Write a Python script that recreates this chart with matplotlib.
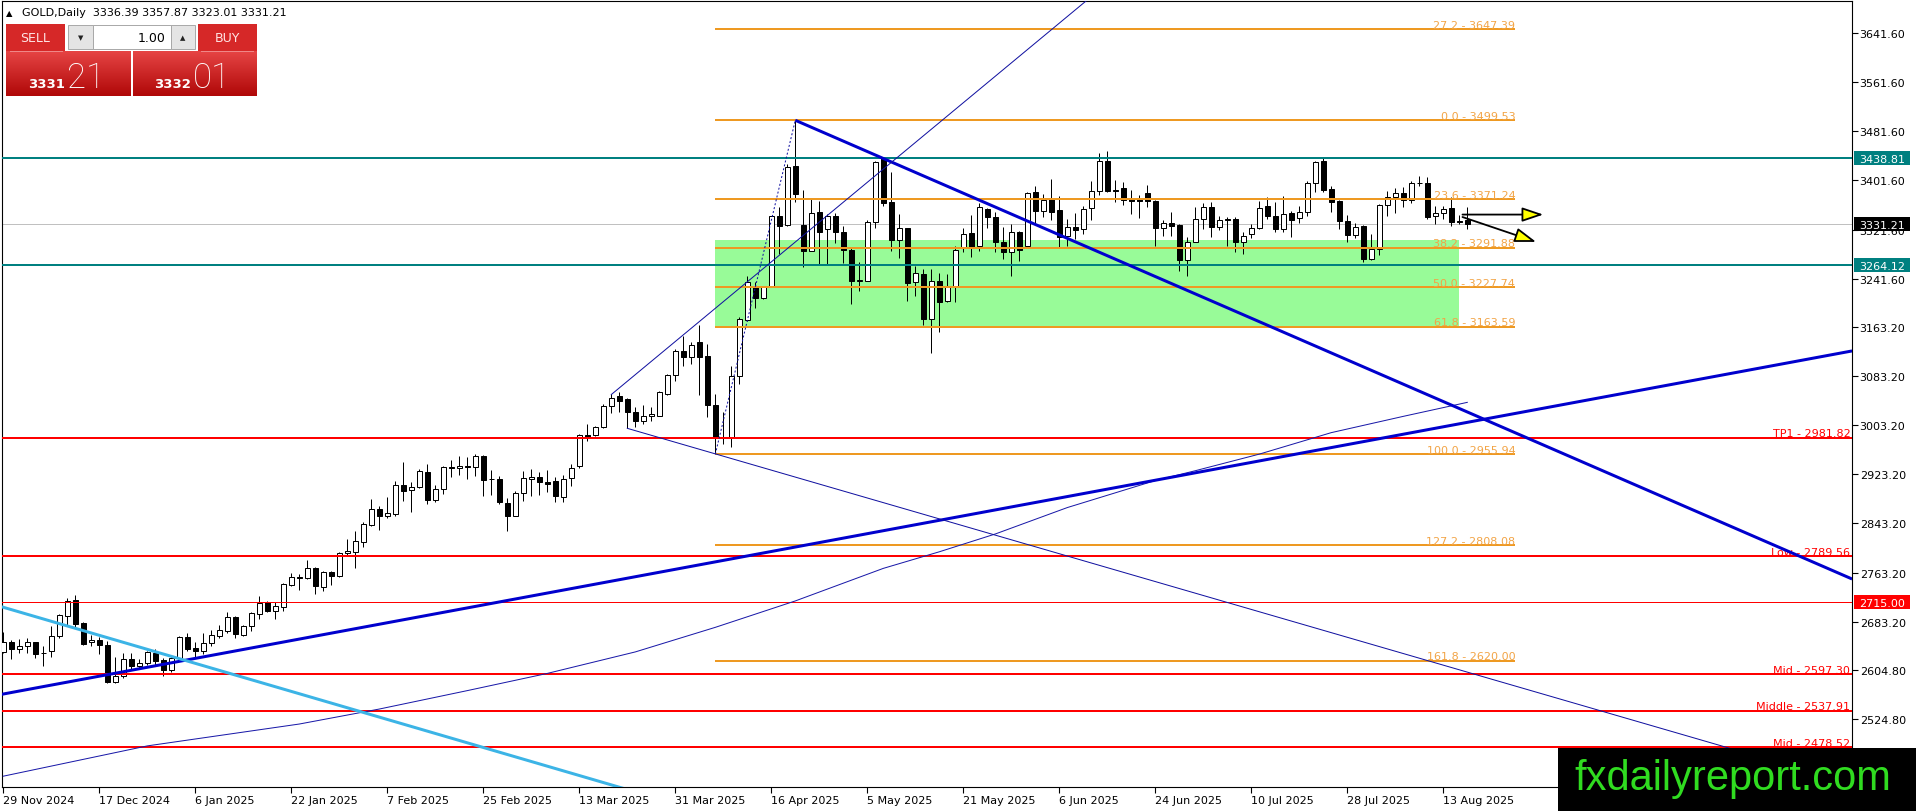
import numpy as np
import matplotlib.pyplot as plt
from matplotlib.patches import Rectangle, FancyArrowPatch
from matplotlib.colors import LinearSegmentedColormap

plt.rcParams['font.family'] = 'DejaVu Sans'
plt.rcParams['font.size'] = 8

# ---------------- data ----------------
# GOLD daily bars, index 0 = 29 Nov 2024, index 183 = 18 Aug 2025
opens = [2634.4, 2649.6, 2638.8, 2643.1, 2649.6, 2632.0, 2636.0, 2659.4, 2693.0, 2718.0,
         2681.1, 2649.6, 2653.4, 2645.3, 2584.5, 2595.4, 2622.5, 2611.6, 2615.4, 2631.7,
         2620.9, 2605.1, 2623.6, 2657.8, 2639.9, 2636.1, 2648.0, 2660.5, 2668.6, 2690.3,
         2661.6, 2676.8, 2695.8, 2714.8, 2701.2, 2706.6, 2743.0, 2756.0, 2753.8, 2770.1,
         2739.2, 2764.6, 2758.1, 2794.5, 2797.2, 2813.4, 2840.6, 2866.6, 2855.8, 2858.5,
         2906.2, 2897.6, 2903.0, 2926.3, 2881.8, 2899.2, 2934.5, 2932.8, 2937.2, 2934.5,
         2952.4, 2915.0, 2915.5, 2876.4, 2855.8, 2892.1, 2916.0, 2918.2, 2910.0, 2911.7,
         2885.6, 2916.6, 2937.2, 2987.7, 2987.7, 2999.6, 3033.8, 3050.1, 3045.7, 3025.1,
         3010.5, 3018.6, 3018.6, 3053.9, 3084.8, 3123.4, 3113.6, 3138.0, 3115.2, 3036.0,
         2982.0, 2983.4, 3082.7, 3175.0, 3227.6, 3209.7, 3230.3, 3343.2, 3329.1, 3424.6,
         3329.1, 3287.3, 3349.7, 3322.6, 3344.3, 3317.1, 3289.0, 3238.0, 3238.4, 3334.4,
         3437.5, 3365.9, 3304.6, 3323.6, 3235.7, 3248.7, 3176.0, 3238.4, 3204.7, 3230.2,
         3291.0, 3315.4, 3294.3, 3355.0, 3341.5, 3300.8, 3285.6, 3317.1, 3294.3, 3382.2,
         3352.3, 3371.3, 3354.0, 3310.5, 3325.2, 3322.5, 3356.1, 3384.9, 3432.7, 3386.5,
         3388.7, 3371.3, 3371.3, 3381.1, 3368.6, 3323.6, 3331.7, 3329.0, 3272.5, 3301.8,
         3338.8, 3357.7, 3325.2, 3338.0, 3338.8, 3300.8, 3314.3, 3323.6, 3359.4, 3343.1,
         3322.5, 3348.5, 3339.9, 3349.6, 3397.4, 3433.7, 3387.6, 3368.1, 3336.0, 3312.7,
         3326.8, 3273.6, 3289.9, 3362.1, 3374.0, 3381.1, 3370.2, 3397.0, 3397.4, 3343.1,
         3348.5, 3356.1, 3335.0, 3336.39]
highs = [2665.9, 2653.4, 2655.1, 2656.1, 2650.7, 2643.0, 2675.7, 2695.8, 2721.3, 2727.2,
         2682.2, 2661.6, 2657.8, 2652.3, 2625.2, 2631.7, 2631.7, 2622.5, 2636.1, 2638.8,
         2623.6, 2627.9, 2659.4, 2664.8, 2650.7, 2664.8, 2670.2, 2677.8, 2698.5, 2693.0,
         2677.9, 2698.5, 2725.6, 2716.4, 2714.8, 2746.2, 2762.5, 2760.9, 2784.1, 2771.7,
         2766.2, 2766.2, 2797.2, 2817.8, 2830.3, 2846.0, 2882.9, 2872.1, 2885.6, 2911.7,
         2942.6, 2911.1, 2931.8, 2939.9, 2905.7, 2937.2, 2946.9, 2953.5, 2950.7, 2956.2,
         2954.5, 2930.7, 2919.8, 2884.0, 2896.5, 2929.0, 2931.0, 2926.3, 2930.7, 2918.2,
         2922.0, 2939.9, 2988.7, 3005.0, 3001.2, 3037.6, 3053.9, 3056.6, 3046.8, 3032.2,
         3036.0, 3032.2, 3059.3, 3086.5, 3127.2, 3148.9, 3138.0, 3166.2, 3135.3, 3053.9,
         3024.0, 3100.0, 3178.7, 3245.5, 3235.7, 3230.3, 3344.3, 3357.8, 3428.4, 3499.5,
         3386.6, 3371.4, 3368.7, 3347.0, 3348.6, 3328.0, 3292.0, 3268.2, 3337.7, 3433.7,
         3439.2, 3415.8, 3346.9, 3324.7, 3262.8, 3257.4, 3257.4, 3250.9, 3249.2, 3295.3,
         3323.6, 3345.3, 3364.8, 3356.1, 3349.6, 3325.2, 3330.6, 3319.8, 3383.3, 3391.9,
         3379.5, 3403.9, 3376.8, 3338.8, 3348.5, 3360.5, 3401.2, 3446.2, 3450.0, 3402.8,
         3399.6, 3386.5, 3377.8, 3394.1, 3369.7, 3337.7, 3349.6, 3330.6, 3308.9, 3357.7,
         3364.8, 3367.0, 3344.2, 3341.5, 3341.5, 3318.1, 3330.6, 3368.6, 3374.0, 3367.0,
         3376.7, 3352.3, 3360.5, 3401.2, 3433.7, 3439.2, 3393.0, 3370.2, 3345.3, 3332.2,
         3329.0, 3314.3, 3363.2, 3384.9, 3388.7, 3390.3, 3401.2, 3408.2, 3406.6, 3359.4,
         3360.5, 3374.0, 3345.3, 3357.87]
lows = [2631.5, 2622.5, 2632.3, 2631.7, 2623.6, 2611.6, 2625.7, 2656.1, 2677.9, 2674.0,
        2645.3, 2643.1, 2630.6, 2583.4, 2583.4, 2591.0, 2605.1, 2607.3, 2612.7, 2612.7,
        2595.4, 2601.9, 2622.5, 2636.1, 2623.6, 2630.6, 2643.1, 2656.1, 2664.8, 2656.1,
        2659.4, 2668.6, 2687.6, 2698.5, 2687.6, 2701.2, 2740.8, 2735.4, 2752.0, 2728.2,
        2733.7, 2742.9, 2756.5, 2791.7, 2770.6, 2805.3, 2838.4, 2833.0, 2851.4, 2855.8,
        2880.2, 2862.3, 2900.3, 2874.8, 2877.5, 2891.0, 2918.2, 2922.0, 2915.5, 2920.9,
        2887.3, 2889.4, 2874.8, 2831.4, 2854.7, 2880.2, 2888.0, 2889.4, 2893.8, 2878.6,
        2878.6, 2904.6, 2932.8, 2977.9, 2985.0, 2998.0, 3022.9, 3025.1, 2998.0, 2999.6,
        3005.0, 3010.5, 3017.6, 3052.3, 3075.6, 3100.0, 3102.8, 3052.3, 3016.0, 2956.0,
        2972.5, 2967.1, 3070.2, 3173.3, 3193.4, 3208.6, 3229.2, 3281.9, 3328.0, 3366.0,
        3260.1, 3287.3, 3265.6, 3265.6, 3299.8, 3267.0, 3201.0, 3222.1, 3238.0, 3323.6,
        3359.4, 3287.2, 3274.7, 3205.8, 3214.0, 3166.2, 3120.6, 3154.3, 3204.1, 3204.1,
        3284.5, 3277.4, 3287.2, 3323.6, 3284.5, 3273.6, 3245.4, 3270.9, 3292.6, 3330.6,
        3341.5, 3337.7, 3292.6, 3294.3, 3306.2, 3314.3, 3337.7, 3377.8, 3382.2, 3365.9,
        3361.6, 3346.9, 3339.9, 3357.8, 3294.3, 3310.5, 3311.6, 3254.6, 3246.5, 3300.8,
        3322.5, 3308.9, 3321.4, 3295.3, 3285.6, 3281.8, 3307.3, 3322.5, 3338.8, 3318.1,
        3318.1, 3308.9, 3332.2, 3343.1, 3382.2, 3382.2, 3350.7, 3322.5, 3300.8, 3307.3,
        3268.2, 3272.5, 3280.1, 3344.2, 3348.5, 3357.7, 3364.8, 3393.0, 3338.8, 3330.6,
        3338.8, 3327.9, 3330.6, 3323.01]
closes = [2649.6, 2638.8, 2643.1, 2649.6, 2631.2, 2632.5, 2659.4, 2694.1, 2717.5, 2679.5,
          2646.9, 2653.4, 2645.3, 2584.5, 2595.4, 2622.5, 2611.6, 2615.4, 2633.3, 2619.8,
          2605.1, 2623.6, 2657.8, 2638.8, 2636.1, 2648.0, 2661.6, 2669.7, 2690.3, 2663.2,
          2676.8, 2696.8, 2713.7, 2701.2, 2708.2, 2744.6, 2755.5, 2755.0, 2770.1, 2740.8,
          2763.6, 2758.1, 2794.5, 2797.7, 2814.0, 2842.2, 2866.6, 2855.8, 2859.6, 2906.2,
          2896.5, 2903.0, 2929.0, 2881.8, 2899.2, 2934.5, 2932.8, 2937.2, 2934.5, 2952.4,
          2914.4, 2915.5, 2877.5, 2855.8, 2892.1, 2916.6, 2918.0, 2910.0, 2907.9, 2888.3,
          2915.5, 2932.8, 2987.7, 2982.2, 2999.6, 3034.9, 3046.8, 3043.0, 3024.0, 3010.5,
          3018.6, 3021.3, 3056.6, 3084.8, 3123.4, 3113.6, 3134.2, 3113.6, 3036.0, 2983.4,
          2983.0, 3083.8, 3176.0, 3236.8, 3209.7, 3227.6, 3343.2, 3326.9, 3422.9, 3379.5,
          3287.3, 3348.1, 3318.2, 3344.3, 3317.1, 3288.0, 3238.0, 3239.0, 3333.3, 3432.1,
          3364.8, 3305.1, 3323.6, 3234.6, 3250.3, 3176.0, 3238.4, 3203.1, 3227.5, 3288.8,
          3314.3, 3292.6, 3357.8, 3341.5, 3300.8, 3285.6, 3317.1, 3288.8, 3381.1, 3352.3,
          3370.2, 3350.7, 3308.9, 3325.2, 3321.4, 3355.0, 3384.9, 3432.7, 3384.9, 3384.9,
          3370.2, 3368.6, 3368.1, 3368.1, 3323.6, 3331.7, 3326.8, 3272.5, 3301.8, 3338.8,
          3357.7, 3325.2, 3337.1, 3337.7, 3300.8, 3311.6, 3323.6, 3356.1, 3343.1, 3322.5,
          3346.9, 3337.7, 3349.6, 3397.4, 3431.0, 3386.5, 3367.0, 3336.0, 3312.7, 3325.2,
          3273.6, 3289.9, 3362.1, 3374.0, 3381.1, 3370.2, 3397.4, 3397.4, 3341.5, 3348.5,
          3355.0, 3334.4, 3334.5, 3331.21]

date_ticks = list(range(0, 181, 12))
date_labels = ['29 Nov 2024', '17 Dec 2024', '6 Jan 2025', '22 Jan 2025', '7 Feb 2025',
               '25 Feb 2025', '13 Mar 2025', '31 Mar 2025', '16 Apr 2025', '5 May 2025',
               '21 May 2025', '6 Jun 2025', '24 Jun 2025', '10 Jul 2025', '28 Jul 2025',
               '13 Aug 2025']
price_ticks = [3641.60, 3561.60, 3481.60, 3401.60, 3321.60, 3241.60, 3163.20, 3083.20,
               3003.20, 2923.20, 2843.20, 2763.20, 2683.20, 2604.80, 2524.80]

# moving average (thin navy curve), read at a few bars
ma_bars = [0, 18, 37, 47, 58, 68, 79, 89, 99, 110, 117, 124, 133, 144, 149, 157, 166, 175, 183]
ma_vals = [2431.7, 2481.0, 2516.6, 2541.0, 2571.0, 2599.0, 2634.0, 2674.0, 2717.0, 2770.0,
           2797.0, 2826.0, 2869.0, 2913.0, 2929.0, 2956.0, 2991.0, 3017.5, 3040.3]

# fibonacci retracement (bar 89 low -> bar 99 high)
fib_levels = [27.2, 0.0, 23.6, 38.2, 50.0, 61.8, 100.0, 127.2, 161.8]
fib_prices = [3647.39, 3499.53, 3371.24, 3291.88, 3227.74, 3163.59, 2955.94, 2808.08, 2620.00]
fib_start, fib_end = 89, 189

# support / resistance lines
teal_levels = [3438.81, 3264.12]
red_names = ['TP1', 'Low', 'Mid', 'Middle', 'Mid']
red_levels = [2981.82, 2789.56, 2597.30, 2537.91, 2478.52]
red_thin_level = 2715.00
bid = 3331.21

# zone box (bars, prices)
zone = (89, 182, 3163.59, 3305.0)

# trend lines: (bar1, price1, bar2, price2)
thick_lines = [(99, 3499.53, 231.1, 2752.7),
               (-5, 2553.4, 231.1, 3124.0)]
cyan_line = (-5, 2725.7, 90, 2364.3)
thin_lines = [(76, 3053.0, 140, 3744.0),
              (78, 2998.0, 231.1, 2419.3)]
fib_trend = (89, 2955.94, 99, 3499.53)
arrows = [(182.4, 3346.0, 192.5, 3346.0),
          (182.4, 3342.0, 191.6, 3301.5)]

# ---------------- screen geometry ----------------
W, H = 1916, 812
L_PX, R_PX, T_PX, B_PX = 2, 1852, 2, 788
BAR0_PX, BAR_PX = 3.3, 8.0


def price_at(y):
    return 3641.6 - (y - 34) * 1.628


def ax_fx(px):
    return (px - L_PX) / (R_PX - L_PX)


fig = plt.figure(figsize=(W / 100, H / 100), dpi=100)
ax = fig.add_axes([L_PX / W, 1 - B_PX / H, (R_PX - L_PX) / W, (B_PX - T_PX) / H])
ax.set_xlim((L_PX - BAR0_PX) / BAR_PX, (R_PX - BAR0_PX) / BAR_PX)
ax.set_ylim(price_at(B_PX), price_at(T_PX))

px = 0.72  # one screen pixel in points

# zone rectangle (background)
ax.add_patch(Rectangle((zone[0], zone[2]), zone[1] - zone[0], zone[3] - zone[2],
                       facecolor='#98FB98', edgecolor='none', zorder=1))

# bid line
ax.axhline(bid, color='#C0C0C0', lw=px, zorder=2)

# candles
o = np.array(opens)
h = np.array(highs)
l = np.array(lows)
c = np.array(closes)
idx = np.arange(len(o))
up = c >= o
ax.vlines(idx, l, h, color='black', lw=px, zorder=3)
ax.bar(idx, np.abs(c - o), bottom=np.minimum(o, c), width=0.6,
       color=np.where(up, 'white', 'black'), edgecolor='black', lw=px, zorder=4)

# horizontal lines
for lv in teal_levels:
    ax.axhline(lv, color='#008080', lw=2 * px, zorder=5)
for lv in red_levels:
    ax.axhline(lv, color='#FF0000', lw=2 * px, zorder=5)
ax.axhline(red_thin_level, color='#FF0000', lw=px, zorder=5)

for name, lv in zip(red_names, red_levels):
    ax.annotate(f'{name} - {lv:.2f}', xy=(1, lv), xycoords=ax.get_yaxis_transform(),
                xytext=(-1.2, 1.3), textcoords='offset points', ha='right', va='baseline',
                color='#FF0000', fontsize=8, zorder=6)

# fibonacci
for lvl, fp in zip(fib_levels, fib_prices):
    ax.plot([fib_start, fib_end], [fp, fp], color='#EE9922', lw=2 * px, zorder=5,
            solid_capstyle='butt')
    ax.annotate(f'{lvl:.1f} - {fp:.2f}', xy=(fib_end, fp), xytext=(0, 1.0),
                textcoords='offset points', ha='right', va='baseline',
                color='#F2A446', fontsize=8, zorder=6)
ax.plot(fib_trend[0::2], fib_trend[1::2], color='#1010A0', lw=px, ls=(0, (2, 2)), zorder=6)

# moving average
ax.plot(ma_bars, ma_vals, color='#1818A8', lw=px, zorder=6)

# trend lines
for t in thick_lines:
    ax.plot(t[0::2], t[1::2], color='#0000CD', lw=3 * px, zorder=7, solid_capstyle='butt')
ax.plot(cyan_line[0::2], cyan_line[1::2], color='#3CB4E6', lw=3 * px, zorder=7)
for t in thin_lines:
    ax.plot(t[0::2], t[1::2], color='#1010A0', lw=px, zorder=7)

# arrows (black shaft, yellow head)
for a in arrows:
    ax.add_patch(FancyArrowPatch((a[0], a[1]), (a[2], a[3]),
                                 arrowstyle='-|>,head_length=0.65,head_width=0.22',
                                 mutation_scale=20, lw=1.3, edgecolor='black',
                                 facecolor='#FFFF00', shrinkA=0, shrinkB=0, zorder=9))

# axes styling
for s in ax.spines.values():
    s.set_linewidth(0.8)
    s.set_color('black')
ax.yaxis.tick_right()
ax.set_yticks(price_ticks)
ax.set_yticklabels([f'{t:.2f}' for t in price_ticks])
ax.tick_params(axis='y', direction='out', length=4, width=0.8, pad=1.5, labelsize=8)
ax.set_xticks(date_ticks)
ax.set_xticklabels(date_labels)
ax.tick_params(axis='x', direction='out', length=4, width=0.8, pad=1.5, labelsize=8)
for lbl in ax.get_xticklabels():
    lbl.set_ha('left')


def axis_box(price, text, color):
    hh = 14 * 1.628
    ax.add_patch(Rectangle((ax_fx(1854), price - hh / 2), ax_fx(1910) - ax_fx(1854), hh,
                           transform=ax.get_yaxis_transform(), clip_on=False,
                           facecolor=color, edgecolor='none', zorder=20))
    ax.text(ax_fx(1882), price, text, transform=ax.get_yaxis_transform(), ha='center',
            va='center_baseline', color='white', fontsize=8, zorder=21, clip_on=False)


axis_box(teal_levels[0], f'{teal_levels[0]:.2f}', '#008080')
axis_box(bid, f'{bid:.2f}', '#000000')
axis_box(teal_levels[1], f'{teal_levels[1]:.2f}', '#008080')
axis_box(red_thin_level, f'{red_thin_level:.2f}', '#FF0000')

# ---------------- screen overlay: title, trade panel, logo ----------------
ov = fig.add_axes([0, 0, 1, 1], zorder=30)
ov.axis('off')

ov.text(6, 13.5, '\u25B2', fontsize=6, va='center', ha='left', color='black')
ov.text(22, 13.5, f'GOLD,Daily  {opens[-1]:.2f} {highs[-1]:.2f} {lows[-1]:.2f} {closes[-1]:.2f}',
        fontsize=8, va='center', ha='left', color='black')

btn = '#D62828'
ov.add_patch(Rectangle((6, 25), 59, 27, facecolor=btn, edgecolor='none'))
ov.add_patch(Rectangle((198, 25), 59, 27, facecolor=btn, edgecolor='none'))
ov.plot([10, 62], [51.5, 51.5], color='#F08A8A', lw=0.7)
ov.plot([201, 253], [51.5, 51.5], color='#F08A8A', lw=0.7)
ov.text(35.5, 38.5, 'SELL', color='#FFE4E4', fontsize=9, ha='center', va='center')
ov.text(227.5, 38.5, 'BUY', color='#FFE4E4', fontsize=9, ha='center', va='center')

ov.add_patch(Rectangle((68, 26), 25, 24, facecolor='#E4E4E4', edgecolor='#A8A8A8', lw=0.7))
ov.add_patch(Rectangle((93, 26), 78, 24, facecolor='white', edgecolor='#A8A8A8', lw=0.7))
ov.add_patch(Rectangle((171, 26), 24, 24, facecolor='#E4E4E4', edgecolor='#A8A8A8', lw=0.7))
ov.text(80.5, 38, '\u25BC', fontsize=5, ha='center', va='center', color='#222222')
ov.text(183, 38, '\u25B2', fontsize=5, ha='center', va='center', color='#222222')
ov.text(166, 38.5, '1.00', fontsize=9, ha='right', va='center', color='black')

red_grad = LinearSegmentedColormap.from_list('panel', ['#E64444', '#B00808'])
grad = np.linspace(0, 1, 64)[:, None]
ov.imshow(grad, extent=(6, 131, 97, 52), cmap=red_grad, aspect='auto', zorder=1)
ov.imshow(grad, extent=(133, 257, 97, 52), cmap=red_grad, aspect='auto', zorder=1)
ov.text(28, 87.5, '3331', color='white', fontsize=9.5, fontweight='bold', ha='left',
        va='baseline', zorder=3)
ov.text(67, 87.5, '21', color='white', fontsize=25, family='Roboto', fontweight='light',
        ha='left', va='baseline', zorder=3)
ov.text(154, 87.5, '3332', color='white', fontsize=9.5, fontweight='bold', ha='left',
        va='baseline', zorder=3)
ov.text(193, 87.5, '01', color='white', fontsize=25, family='Roboto', fontweight='light',
        ha='left', va='baseline', zorder=3)

ov.add_patch(Rectangle((1558, 749), 358, 63, facecolor='black', edgecolor='none', zorder=5))
ov.text(1574, 790, 'fxdailyreport.com', color='#30DC20', fontsize=30,
        family='Liberation Sans', ha='left', va='baseline', zorder=6)

ov.set_xlim(0, W)
ov.set_ylim(H, 0)

fig.savefig('out.png', dpi=100, facecolor='white')
